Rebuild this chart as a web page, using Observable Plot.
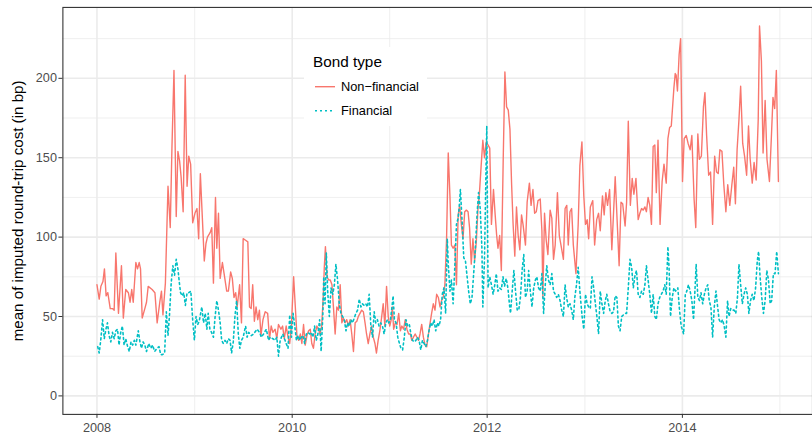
<!DOCTYPE html>
<html><head><meta charset="utf-8">
<script src="https://cdn.jsdelivr.net/npm/d3@7"></script>
<script src="https://cdn.jsdelivr.net/npm/@observablehq/plot@0.6"></script>
<style>
body{margin:0;background:#fff;}
#wrap{position:relative;width:812px;height:439px;overflow:hidden;font-family:"Liberation Sans",Arial,sans-serif;}
#wrap svg{position:absolute;left:0;top:0;}
</style></head><body><div id="wrap"></div>
<script>
const seriesNames = ["Non\u2212financial", "Financial"];
const seriesColors = ["#F8766D", "#00BFC4"];
const legendTitle = "Bond type";
const yLabel = "mean of imputed round-trip cost (in bp)";
const yTicks = [0, 50, 100, 150, 200];
const yMinor = [25, 75, 125, 175, 225];
const xTickYears = [2008, 2010, 2012, 2014];
const xMinorYears = [2009, 2011, 2013, 2015];

// [weeks since 2008-01-01, value in bp]
const nonFinancial = [[0,70],[1.2,61],[2.1,69],[3.2,72],[4,80],[4.9,63],[5.8,65],[7.1,55],[8.3,55],[9.2,54],[10.1,90],[11.5,52],[13.1,82],[14.1,49],[15.4,67],[16.8,65],[17.7,59],[18.6,67],[19.4,59],[20.8,84],[21.7,80],[22.6,84],[23.3,80],[24.2,49],[25.6,55],[26.5,59],[27.4,69],[29.5,67],[31,65],[32.2,46],[33.6,59],[34.5,66],[35.3,51],[36.6,71],[38,132],[39.2,106],[40.1,156],[41.2,205],[42.4,113],[43.3,154],[44.2,148],[45,138],[46.1,116],[47.2,202],[48.2,132],[49.1,151],[50.1,146],[51.2,109],[52.4,115],[53.5,118],[54.4,99],[55.3,140],[56.3,114],[57.4,85],[58.3,96],[59.1,100],[60.6,103],[61.4,106],[62.3,71],[63.4,125],[64.1,93],[65,115],[65.9,74],[67.1,84],[68,77],[69.4,66],[70.3,66],[71.5,78],[72.4,74],[73.3,62],[74.2,65],[75,56],[76.3,70],[77.3,46],[78.2,99],[79.5,98],[80.7,97],[81.6,56],[82.5,55],[83.3,70],[84.2,47],[85.1,56],[86,48],[86.9,54],[87.7,38],[88.8,48],[90,53],[91.3,52],[92.3,36],[93.2,44],[94.1,40],[95.3,42],[96.2,36],[97.1,45],[98.4,42],[99.3,44],[100.2,36],[101.2,44],[102.2,37],[103.1,33],[104,44],[105.2,75],[106.1,56],[107,37],[107.9,35],[108.8,39],[109.6,33],[110.5,45],[111.4,32],[112.3,38],[113.2,41],[114.1,42],[114.9,33],[115.8,30],[116.7,39],[117.6,44],[118.5,42],[119.3,39],[120.2,44],[121.1,64],[121.6,81],[122.2,94],[123.1,75],[123.9,73],[124.8,73],[125.7,70],[126.6,54],[127.4,39],[128.3,56],[129.2,54],[130.1,70],[131,46],[131.8,49],[132.7,46],[133.6,48],[134.5,44],[135.4,48],[136.3,39],[137.2,28],[138.1,46],[139,47],[139.8,50],[140.7,52],[141.6,54],[142.5,53],[143.4,46],[144.2,39],[145.1,33],[146,39],[146.9,44],[147.8,37],[148.7,33],[149.5,27],[150.4,35],[151.3,41],[152.2,49],[153.1,58],[154,44],[154.9,69],[155.8,50],[156.6,44],[157.4,48],[158,56],[158.7,42],[159.6,46],[160.5,45],[161.4,52],[162.3,41],[163.1,44],[164,42],[164.9,48],[165.8,42],[166.7,39],[167.6,39],[168.4,35],[169.3,37],[170.2,39],[171.1,37],[172,35],[172.8,39],[173.7,45],[174.6,37],[175.5,32],[176.4,31],[177.3,39],[178.2,46],[179,52],[179.9,58],[180.8,54],[181.7,64],[182.6,62],[183.5,56],[184.3,60],[185.2,62],[186.1,70],[187,99],[187.9,153],[188.8,126],[189.6,95],[190.5,93],[191.4,95],[192.3,70],[193.2,114],[194,120],[194.9,108],[195.8,99],[196.7,116],[197.6,117],[198.5,116],[199.3,106],[200.2,83],[201.1,99],[202,85],[202.9,97],[203.8,118],[204.6,128],[205.5,145],[206.4,161],[207.3,150],[208.2,160],[209.2,158],[210.1,156],[211,108],[212.1,130],[213,114],[213.8,101],[214.5,93],[215.4,101],[216.3,79],[217.3,149],[218.2,204],[219.1,182],[220,180],[220.9,168],[221.8,133],[222.6,108],[223.5,88],[224.4,119],[225.3,101],[226.2,92],[227.1,114],[227.9,108],[229.2,95],[230.1,122],[231.3,134],[232.2,120],[233.2,130],[234.1,115],[235,116],[235.9,123],[237.1,124],[238,104],[238.5,62],[239.4,115],[240.3,98],[241.2,89],[242.4,117],[243.3,112],[244.2,86],[245.1,95],[246.3,128],[247.3,101],[248.2,95],[249.5,86],[250.4,118],[251.3,120],[252.1,95],[253,116],[253.9,118],[254.8,95],[256.2,77],[257.4,108],[258.3,145],[259.4,160],[260.4,126],[261.3,108],[262.2,111],[263,99],[263.9,119],[265.2,123],[266.2,95],[267.3,111],[268.3,115],[269.2,104],[270.4,126],[271.3,114],[272.2,128],[273.1,120],[274.2,130],[275.4,92],[276.3,115],[277.2,138],[278.4,106],[279.3,82],[280.3,122],[281.2,121],[282.5,107],[283.3,122],[284.2,173],[285.3,120],[286.3,137],[287.2,127],[288.3,137],[289.5,111],[290.4,115],[291.3,118],[292.2,117],[293.1,119],[293.9,116],[294.8,125],[295.7,120],[296.6,108],[297.5,157],[298.4,158],[299.2,128],[300.1,161],[301.2,108],[302.3,135],[303.3,146],[304.5,134],[305.4,162],[306.3,169],[307.2,170],[308.6,194],[309.3,203],[309.8,202],[310.5,192],[311.4,215],[312.2,225],[313.2,135],[314.1,162],[315.2,164],[316.2,159],[317.3,155],[318.2,164],[319.4,124],[320.3,106],[321.4,165],[322.2,149],[323.3,151],[324.4,182],[325.2,191],[326.1,164],[327.2,139],[328.2,141],[329.3,108],[330.4,151],[331.4,141],[332.3,140],[333.2,155],[334.3,154],[335.3,133],[336.4,116],[337.4,133],[338.5,120],[339.6,133],[340.6,144],[341.5,121],[342.4,155],[343.4,174],[344.3,195],[345.4,159],[346.4,151],[347.5,139],[348.5,170],[349.4,149],[350.5,134],[351.5,147],[352.6,136],[353.7,174],[354.4,233],[355.4,211],[356.3,153],[357.4,186],[358.4,149],[359.7,135],[360.7,162],[361.6,188],[362.5,181],[363.4,205],[364.5,135]];

const financial = [[0.4,31],[1.2,27],[2.1,36],[3,48],[3.9,36],[4.8,42],[5.6,46],[6.5,38],[7.4,34],[8.3,40],[9.2,36],[10.1,41],[11,42],[11.8,32],[12.7,40],[13.6,44],[14.5,32],[15.4,36],[16.4,31],[17.3,28],[18.2,34],[19.1,32],[20,35],[20.8,32],[22.1,41],[23,34],[23.8,30],[24.7,34],[25.6,32],[26.5,28],[27.7,33],[28.8,30],[29.7,32],[30.9,28],[32.1,30],[33.2,31],[34.1,26],[35,26],[36.2,27],[37.1,53],[38,38],[38.8,51],[39.7,71],[40.6,82],[41.5,76],[42.4,86],[43.3,80],[44.1,71],[44.7,65],[45.6,63],[46.4,65],[47.3,57],[48.2,65],[49.1,65],[50.2,66],[51.2,48],[52.1,35],[53,50],[53.9,45],[54.7,47],[55.6,53],[56.1,56],[57,46],[57.9,52],[58.8,42],[59.5,52],[60.4,42],[61.3,40],[62.3,37],[63.2,50],[64.1,60],[65,54],[65.9,46],[66.7,35],[67.6,33],[68.5,35],[69.4,33],[70.3,36],[71.2,35],[72,27],[72.9,34],[73.8,50],[74.7,60],[75.6,39],[76.4,30],[77.3,35],[78.2,37],[79.5,44],[80.3,37],[81.2,40],[82.5,38],[83.8,39],[85.6,42],[87,40],[87.9,37],[89.1,39],[90.6,42],[91.8,35],[92.7,37],[94.1,36],[95.3,35],[96.2,37],[97.1,25],[98,35],[99.4,39],[100.3,36],[101.2,33],[102.2,30],[103.1,51],[104,37],[104.9,52],[105.8,44],[106.7,35],[107.6,38],[108.5,35],[109.3,37],[110.2,38],[111.1,33],[112,39],[112.9,40],[113.8,39],[114.6,40],[115.5,37],[116.4,44],[117.3,35],[118.2,39],[119.1,48],[119.9,28],[120.8,50],[121.3,75],[122,58],[122.7,90],[123.4,66],[124.3,50],[125.2,68],[126.1,64],[127,70],[127.8,83],[128.7,73],[129.6,58],[130.5,52],[131.4,50],[132.3,48],[133.2,41],[134.1,46],[135,44],[135.8,48],[136.7,46],[137.6,49],[138.5,52],[139.4,54],[140.3,61],[141.2,56],[142,58],[142.9,57],[143.8,58],[144.7,56],[145.6,64],[146.5,44],[147.4,37],[148.3,53],[149.1,46],[150,48],[150.9,44],[151.8,46],[152.7,44],[153.6,39],[154.5,46],[155.4,48],[156.1,46],[157,48],[157.8,56],[158.4,63],[159.1,48],[160,46],[160.9,37],[161.8,33],[162.6,30],[163.5,29],[164.4,37],[165.3,48],[166.2,44],[167.1,45],[167.9,39],[168.8,35],[169.7,34],[170.6,35],[171.5,37],[172.3,35],[173.2,29],[174.1,35],[175,33],[175.9,31],[176.8,35],[177.6,41],[178.5,46],[179.4,44],[180.3,48],[181.2,41],[182.1,46],[182.9,44],[183.8,48],[184.7,64],[185.6,68],[186.5,52],[187.4,99],[187.9,83],[188.8,66],[189.6,73],[190.5,58],[191.4,81],[192.3,108],[193.2,112],[193.7,118],[194.4,130],[195.3,110],[196.2,87],[197.1,85],[198,75],[198.8,66],[199.7,58],[200.6,62],[201.5,77],[202.4,93],[203.3,114],[204.1,128],[205,118],[205.9,93],[206.4,56],[207.3,87],[208.5,170],[209.2,68],[210.1,75],[211,70],[211.9,64],[212.8,70],[213.6,77],[214.5,66],[215.4,68],[216.3,67],[217.2,75],[218,69],[218.9,74],[219.8,68],[220.7,57],[221.2,52],[222.1,66],[223,79],[223.9,66],[224.8,54],[225.6,54],[226.5,62],[227.4,79],[228.3,89],[229.2,62],[230.1,66],[230.9,79],[231.8,66],[232.7,56],[233.6,68],[234.5,73],[235.3,75],[236.2,68],[237.1,66],[238,77],[238.9,52],[239.8,70],[240.6,82],[241.5,73],[242.4,70],[243.3,77],[244.2,66],[245.1,64],[245.9,62],[246.8,64],[247.7,60],[248.6,54],[249.5,50],[250.4,70],[251.2,62],[252.1,56],[253,58],[253.9,54],[254.8,48],[255.6,62],[256.5,70],[257.4,81],[258.3,66],[259.5,50],[260.4,42],[261.3,64],[262.2,58],[263,56],[263.9,55],[264.8,75],[265.7,68],[266.6,58],[267.4,50],[268.3,39],[269.2,66],[270.1,58],[271,52],[271.9,60],[272.7,64],[273.6,58],[274.5,53],[275.4,52],[276.3,53],[277.2,63],[278.1,62],[278.9,44],[279.8,41],[280.7,50],[281.6,51],[282.5,52],[283.3,52],[284.2,68],[285.1,86],[286,81],[286.9,68],[287.8,76],[288.6,79],[289.5,64],[290.4,62],[291.3,66],[292.2,64],[293.1,70],[293.9,82],[294.8,73],[295.7,64],[296.6,52],[297.5,64],[298.4,50],[299.2,48],[300.1,58],[301,62],[301.9,64],[302.8,66],[303.7,70],[304.5,64],[305.4,94],[306,81],[306.8,50],[307.7,62],[308.6,68],[309.5,66],[310.7,68],[311.6,54],[312.5,44],[313.8,39],[314.7,64],[315.5,66],[316.4,70],[317.3,66],[318.2,60],[319.1,48],[320,70],[320.5,83],[321.4,62],[322.3,60],[323.1,65],[324,58],[324.9,64],[325.8,68],[326.7,70],[327.5,60],[328.4,56],[329.3,37],[330.2,56],[331.1,66],[332,56],[332.8,48],[333.7,46],[334.6,48],[335.5,44],[336.4,37],[337.3,60],[338.1,50],[339,55],[339.9,54],[340.8,54],[341.7,52],[342.6,62],[343.4,83],[344.3,70],[345.2,58],[346.1,64],[347,68],[347.9,64],[348.7,52],[349.6,60],[350.5,64],[351.4,60],[352.3,68],[353.2,85],[353.9,91],[354.7,75],[355.6,62],[356.5,52],[357.4,60],[358.3,79],[359.2,73],[360.1,58],[360.9,60],[361.8,77],[362.7,77],[363.6,91],[364.5,77]];

const t0 = Date.UTC(2008, 0, 1);
const weekToDate = w => new Date(t0 + w * 7 * 864e5);
const yearDate = y => new Date(Date.UTC(y, 0, 1));
const toRows = (arr, name) => arr.map(([w, v]) => ({date: weekToDate(w), value: v, type: name}));
const nfRows = toRows(nonFinancial, seriesNames[0]);
const fRows = toRows(financial, seriesNames[1]);
const all = nfRows.concat(fRows);

// ggplot-like 5% expansion (y limits include 0)
const wExt = d3.extent(nonFinancial.concat(financial), d => d[0]);
const wPad = (wExt[1] - wExt[0]) * 0.05;
const yMax = d3.max(all, d => d.value);
const yPad = yMax * 0.05;

const marginLeft = 63, panelWidth = 757;
const grid = "#EBEBEB";

const chart = Plot.plot({
  width: marginLeft + panelWidth,
  height: 439,
  marginLeft, marginRight: 0, marginTop: 7, marginBottom: 21,
  style: {fontFamily: '"Liberation Sans", Arial, sans-serif', background: "transparent"},
  x: {type: "utc", domain: [weekToDate(wExt[0] - wPad), weekToDate(wExt[1] + wPad)]},
  y: {domain: [-yPad, yMax + yPad]},
  marks: [
    Plot.gridX(xMinorYears.map(yearDate), {stroke: grid, strokeOpacity: 1, strokeWidth: 0.8}),
    Plot.gridY(yMinor, {stroke: grid, strokeOpacity: 1, strokeWidth: 0.8}),
    Plot.gridX(xTickYears.map(yearDate), {stroke: grid, strokeOpacity: 1, strokeWidth: 1.6}),
    Plot.gridY(yTicks, {stroke: grid, strokeOpacity: 1, strokeWidth: 1.6}),
    Plot.line(nfRows, {x: "date", y: "value", stroke: seriesColors[0], strokeWidth: 1.4}),
    Plot.line(fRows, {x: "date", y: "value", stroke: seriesColors[1], strokeWidth: 1.6, strokeDasharray: "2,3"}),
    Plot.frame({stroke: "#333333", strokeWidth: 1.1}),
    Plot.axisX(xTickYears.map(yearDate), {tickFormat: d3.utcFormat("%Y"), tickSize: 4, tickPadding: 5, stroke: "#333333", fill: "#4D4D4D", fontSize: 12.8, label: null}),
    Plot.axisY(yTicks, {tickSize: 4, tickPadding: 2, stroke: "#333333", fill: "#4D4D4D", fontSize: 12.8, label: null}),
    Plot.text([yLabel], {frameAnchor: "left", textAnchor: "middle", lineAnchor: "middle", rotate: -90, dx: -45, fontSize: 15.3, fill: "black"})
  ]
});
document.getElementById("wrap").appendChild(chart);

// legend overlay
const lg = d3.select("#wrap").append("svg").attr("width", 812).attr("height", 439)
  .style("font-family", '"Liberation Sans", Arial, sans-serif');
lg.append("rect").attr("x", 304).attr("y", 47).attr("width", 123).attr("height", 79).attr("fill", "white");
lg.append("text").attr("x", 313).attr("y", 67).attr("font-size", 15.3).attr("fill", "black").text(legendTitle);
seriesNames.forEach((name, i) => {
  const cy = 86.7 + i * 24;
  lg.append("line").attr("x1", 315).attr("x2", 335).attr("y1", cy).attr("y2", cy)
    .attr("stroke", seriesColors[i]).attr("stroke-width", i ? 1.6 : 1.4)
    .attr("stroke-dasharray", i ? "2,3" : null);
  lg.append("text").attr("x", 341).attr("y", cy).attr("dy", "0.35em").attr("font-size", 12.8)
    .attr("fill", "black").text(name);
});
</script></body></html>
